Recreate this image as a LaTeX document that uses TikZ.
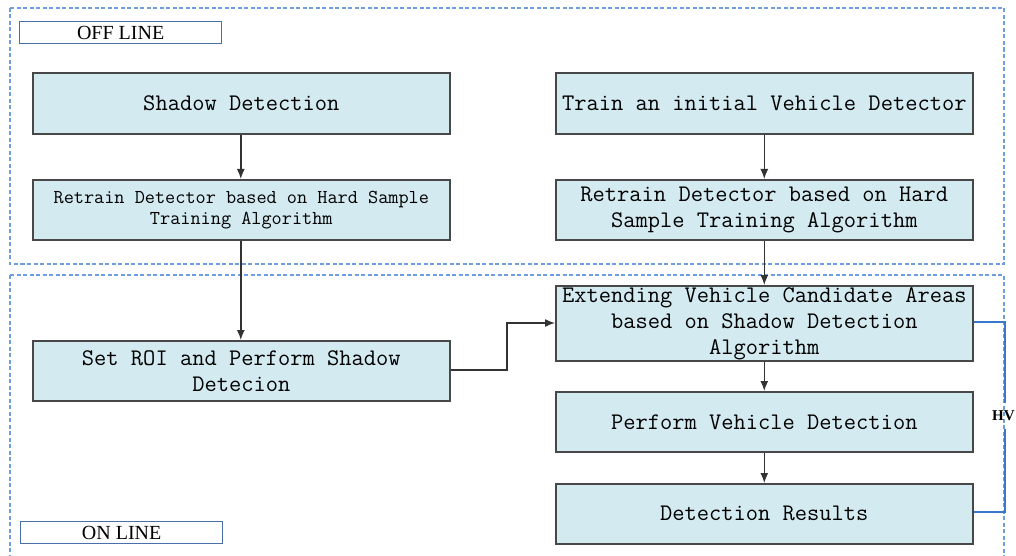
\documentclass[tikz,border=0pt]{standalone}
\usepackage{fontspec}
\newfontfamily\labelfont{Liberation Serif}
\usetikzlibrary{arrows.meta,shadows}
\definecolor{boxfill}{HTML}{D3EAF0}
\definecolor{boxline}{HTML}{484848}
\definecolor{zoneline}{HTML}{6E9DE0}
\definecolor{hvline}{HTML}{3A78D0}
\definecolor{tagline}{HTML}{4A6EA8}
\tikzset{
  stepbox/.style={draw=boxline, line width=1.6pt, fill=boxfill, inner sep=0pt,
    align=center, anchor=north west,
    drop shadow={shadow xshift=1.3pt, shadow yshift=-1.3pt, fill=black!60, opacity=1},
    font=\ttfamily\fontsize{23.8}{26}\selectfont},
  smalltext/.style={font=\ttfamily\fontsize{19.7}{21}\selectfont},
  zone/.style={draw=zoneline, line width=1.5pt, dash pattern=on 4pt off 2.5pt},
  tag/.style={draw=tagline, line width=1.3pt, fill=white, minimum width=202pt,
    minimum height=22pt, inner sep=0pt, anchor=north west,
    font=\labelfont\fontsize{20}{22}\selectfont},
  flow/.style={draw=black!80, line width=1.4pt, -{Latex[length=10pt,width=8pt]}},
  hv/.style={draw=hvline, line width=1.8pt}
}
\begin{document}
\begin{tikzpicture}[x=1pt,y=-1pt]
\useasboundingbox (0,0) rectangle (1016,556);
\clip (0,0) rectangle (1016,556);

% processing zones
\draw[zone] (10,8) rectangle (1004,264);
\draw[zone] (10,275) rectangle (1004,570);
\node[tag] (offtag) at (19,21) {OFF LINE};
\node[tag] (ontag) at (20,521) {ON LINE};

% offline stage
\node[stepbox, minimum width=417pt, minimum height=61pt] (shadow) at (32,72) {Shadow Detection};
\node[stepbox, minimum width=417pt, minimum height=61pt] (train) at (555,72) {Train an initial Vehicle Detector};
\node[stepbox, smalltext, minimum width=417pt, minimum height=60pt] (retrainL) at (32,179) {Retrain Detector based on Hard Sample\\Training Algorithm};
\node[stepbox, minimum width=417pt, minimum height=60pt] (retrainR) at (555,179) {Retrain Detector based on Hard\\Sample Training Algorithm};

% online stage
\node[stepbox, minimum width=417pt, minimum height=60pt] (roi) at (32,340) {Set ROI and Perform Shadow\\Detecion};
\node[stepbox, minimum width=417pt, minimum height=75pt] (extend) at (555,285) {Extending Vehicle Candidate Areas\\based on Shadow Detection\\Algorithm};
\node[stepbox, minimum width=417pt, minimum height=60pt] (perform) at (555,391) {Perform Vehicle Detection};
\node[stepbox, minimum width=417pt, minimum height=60pt] (result) at (555,483) {Detection Results};

% connectors
\draw[flow] ([xshift=-0.5pt]shadow.south) -- ([xshift=-0.5pt]retrainL.north);
\draw[flow] (train.south) -- (retrainR.north);
\draw[flow] ([xshift=-0.5pt]retrainL.south) -- ([xshift=-0.5pt]roi.north);
\draw[flow] (retrainR.south) -- (extend.north);
\coordinate (midA) at (507,370);
\coordinate (midB) at (507,323);
\draw[flow] (roi.east |- midA) -- (midA) -- (midB) -- (extend.west |- midB);
\draw[flow] (extend.south) -- (perform.north);
\draw[flow] (perform.south) -- (result.north);

% HV bracket
\coordinate (hvtop) at (1005,322);
\coordinate (hvbot) at (1005,512);
\coordinate (gapA) at (1005,403);
\coordinate (gapB) at (1005,429);
\draw[hv] (extend.east |- hvtop) -- (hvtop) -- (gapA);
\draw[hv] (gapB) -- (hvbot) -- (result.east |- hvbot);
\node[anchor=west, inner sep=0pt, font=\labelfont\bfseries\fontsize{15}{16}\selectfont] (hvlabel) at (992,416) {HV};
\end{tikzpicture}
\end{document}
